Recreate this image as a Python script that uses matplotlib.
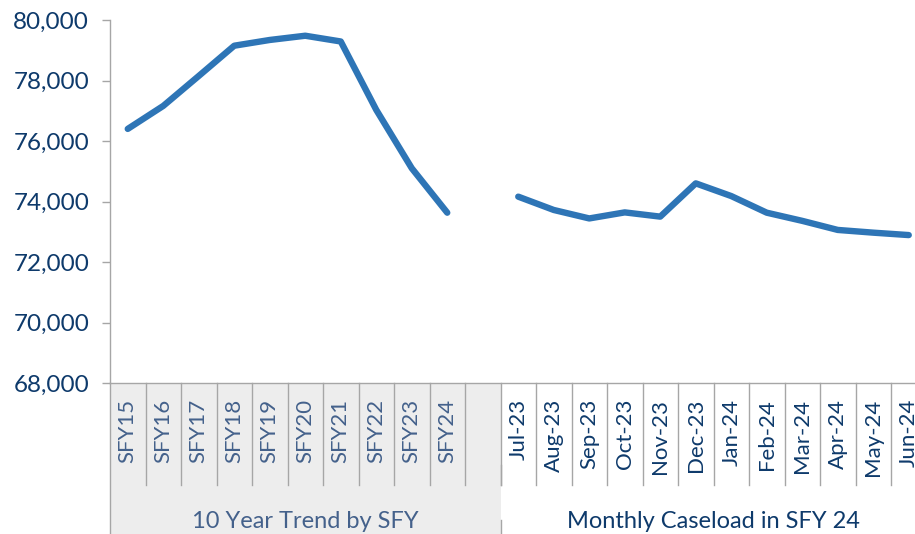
import matplotlib
matplotlib.use("Agg")
import matplotlib.pyplot as plt
import numpy as np
from matplotlib.patches import Rectangle
from matplotlib.transforms import blended_transform_factory

plt.rcParams['font.family'] = ['Lato', 'DejaVu Sans']

sfy_labels = ["SFY15", "SFY16", "SFY17", "SFY18", "SFY19", "SFY20", "SFY21", "SFY22", "SFY23", "SFY24"]
sfy_values = [76400, 77160, 78150, 79150, 79340, 79480, 79290, 77030, 75100, 73630]
month_labels = ["Jul-23", "Aug-23", "Sep-23", "Oct-23", "Nov-23", "Dec-23",
                "Jan-24", "Feb-24", "Mar-24", "Apr-24", "May-24", "Jun-24"]
month_values = [74160, 73720, 73440, 73640, 73500, 74600, 74180, 73630, 73360, 73060, 72970, 72890]
group_labels = ["10 Year Trend by SFY", "Monthly Caseload in SFY 24"]
yticks = [68000, 70000, 72000, 74000, 76000, 78000, 80000]

W, H = 915, 534
fig = plt.figure(figsize=(W / 100, H / 100), dpi=100)
left_px, right_px, top_px, bot_px = 110, 926.5, 20, 383
ax = fig.add_axes([left_px / W, (H - bot_px) / H, (right_px - left_px) / W, (bot_px - top_px) / H])

line_color = "#2E75B6"
navy = "#0E3A6B"
soft = "#44618B"
grid_gray = "#A6A6A6"

n_sfy = len(sfy_labels)
x_sfy = np.arange(n_sfy)
x_mon = np.arange(len(month_labels)) + n_sfy + 1
n_total = n_sfy + 1 + len(month_labels)

ax.plot(x_sfy, sfy_values, color=line_color, lw=4.6, solid_capstyle='round', solid_joinstyle='round', clip_on=False)
ax.plot(x_mon, month_values, color=line_color, lw=4.6, solid_capstyle='round', solid_joinstyle='round', clip_on=False)

ax.set_xlim(-0.5, n_total - 0.5)
ax.set_ylim(68000, 80000)
ax.set_yticks(yticks)
ax.set_yticklabels([f"{v:,}" for v in yticks], color=navy, fontsize=17.5)
ax.tick_params(axis='y', length=6, width=1, color=grid_gray, pad=9)
ax.set_xticks([])
for s in ['top', 'right']:
    ax.spines[s].set_visible(False)
ax.spines['left'].set_color(grid_gray)
ax.spines['bottom'].set_color(grid_gray)
ax.spines['left'].set_linewidth(1)
ax.spines['bottom'].set_linewidth(1)

ah = bot_px - top_px
def fy(px):
    return (bot_px - px) / ah

tr = blended_transform_factory(ax.transData, ax.transAxes)

# gray group box
ax.add_patch(Rectangle((-0.5, fy(H)), n_sfy + 1, -fy(H), transform=tr,
                       facecolor="#EDEDED", edgecolor='none', clip_on=False, zorder=0))
# left axis extension
ax.plot([-0.5, -0.5], [0, fy(H)], transform=tr, color=grid_gray, lw=1, clip_on=False)
# category separators
for b in np.arange(0.5, n_total - 0.5, 1.0):
    ax.plot([b, b], [0, fy(485)], transform=tr, color=grid_gray, lw=1, clip_on=False)
# group separator
gb = n_sfy + 0.5
ax.plot([gb, gb], [fy(465), fy(485)], transform=tr, color=grid_gray, lw=1, clip_on=False)
ax.plot([gb, gb], [fy(520), fy(H)], transform=tr, color=grid_gray, lw=1, clip_on=False)

# category labels
for x, lab in zip(x_sfy, sfy_labels):
    ax.text(x, fy(399), lab, transform=tr, rotation=90, ha='center', va='top',
            color=soft, fontsize=16)
for x, lab in zip(x_mon, month_labels):
    ax.text(x, fy(399), lab, transform=tr, rotation=90, ha='center', va='top',
            color=navy, fontsize=16)

# group labels
ax.text((-0.5 + n_sfy + 0.5) / 2, fy(521), group_labels[0], transform=tr, ha='center', va='center',
        color=soft, fontsize=17)
ax.text((n_sfy + 0.5 + n_total - 0.5) / 2, fy(521), group_labels[1], transform=tr, ha='center', va='center',
        color=navy, fontsize=17)

fig.savefig("out.png", dpi=100)
